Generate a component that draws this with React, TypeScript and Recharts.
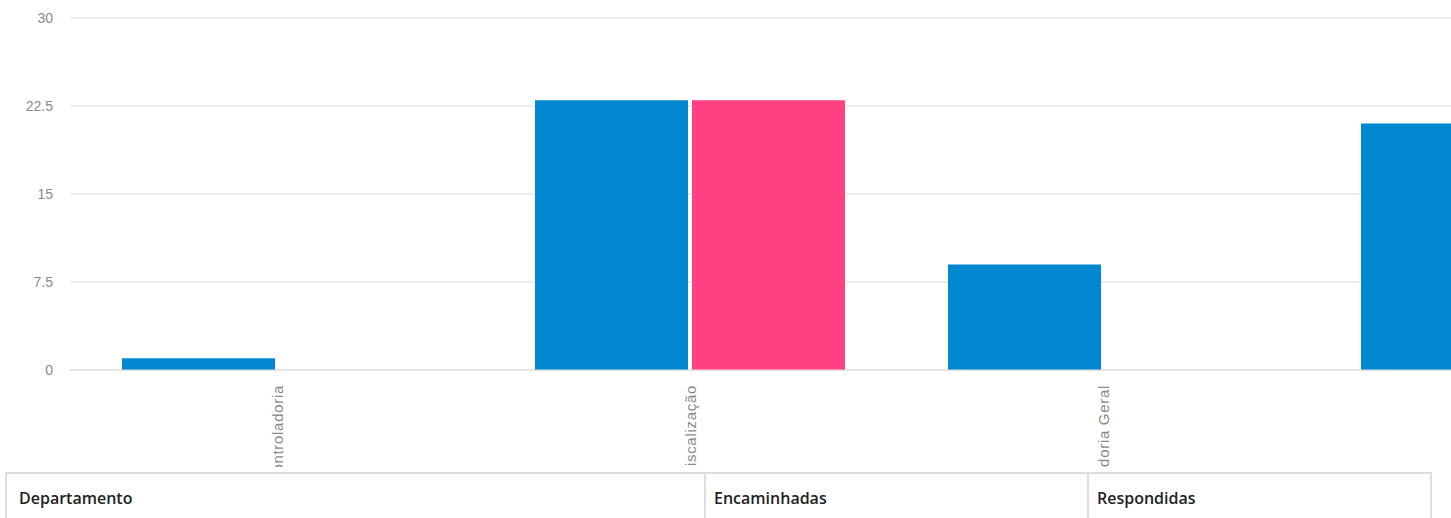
import React from "react";
import { BarChart, Bar, XAxis, YAxis, CartesianGrid } from "recharts";

const categories = ["Controladoria", "Fiscalização", "Ouvidoria Geral", "Secretaria"];
const encaminhadas = [1, 23, 9, 21];
const respondidas = [0, 23, 0, 0];
const yTicks = [0, 7.5, 15, 22.5, 30];
const tableHeaders = ["Departamento", "Encaminhadas", "Respondidas"];

const data = categories.map((name, i) => ({
  name,
  encaminhadas: encaminhadas[i],
  respondidas: respondidas[i],
}));

const XTick = (props: any) => {
  const { x, y, payload } = props;
  return (
    <text
      x={x + 1}
      y={y}
      transform={`rotate(-90 ${x + 1} ${y})`}
      textAnchor="end"
      dominantBaseline="central"
      fill="#8a8a8a"
      fontSize={15}
      letterSpacing="0.7px"
      fontFamily="'Liberation Sans', Arial, sans-serif"
    >
      {payload.value}
    </text>
  );
};

const colLeft = [7, 704, 1087];
const colRight = [704, 1087, 1432];

export default function App() {
  return (
    <div
      style={{
        position: "absolute",
        left: 0,
        top: 0,
        width: 1451,
        height: 518,
        overflow: "hidden",
        background: "#fff",
      }}
    >
      <div style={{ position: "absolute", left: 0, top: 0, width: 1451, height: 467, overflow: "hidden" }}>
        <BarChart
          width={1722}
          height={467}
          data={data}
          margin={{ top: 18, right: 0, left: 0, bottom: 0 }}
          barCategoryGap={52}
          barGap={4}
        >
          <CartesianGrid vertical={false} stroke="#dcdcdc" />
          <YAxis
            width={70}
            domain={[0, 30]}
            ticks={yTicks}
            interval={0}
            axisLine={false}
            tickLine={false}
            tickSize={0}
            tickMargin={17}
            tick={{ fill: "#8a8a8a", fontSize: 14, fontFamily: "'Liberation Sans', Arial, sans-serif" }}
          />
          <XAxis
            dataKey="name"
            height={97}
            interval={0}
            axisLine={{ stroke: "#dcdcdc" }}
            tickLine={false}
            tickSize={0}
            tickMargin={15}
            tick={<XTick />}
          />
          <Bar dataKey="encaminhadas" fill="#0288D1" isAnimationActive={false} />
          <Bar dataKey="respondidas" fill="#FF4081" isAnimationActive={false} />
        </BarChart>
      </div>
      <div
        style={{
          position: "absolute",
          left: 5,
          top: 472,
          width: 1427,
          height: 60,
          borderTop: "2px solid #dddddd",
          borderLeft: "2px solid #dddddd",
          borderRight: "2px solid #dddddd",
          boxSizing: "border-box",
        }}
      />
      {tableHeaders.map((h, i) => (
        <div
          key={h}
          style={{
            position: "absolute",
            left: colLeft[i],
            top: 474,
            width: colRight[i] - colLeft[i],
            height: 50,
            boxSizing: "border-box",
            borderLeft: i > 0 ? "2px solid #dddddd" : "none",
            paddingLeft: i > 0 ? 8 : 12,
            paddingTop: 12,
            fontFamily: "'Open Sans', 'Noto Sans', sans-serif",
            fontWeight: 600,
            fontSize: 16,
            color: "#222",
            lineHeight: "24px",
          }}
        >
          {h}
        </div>
      ))}
    </div>
  );
}
